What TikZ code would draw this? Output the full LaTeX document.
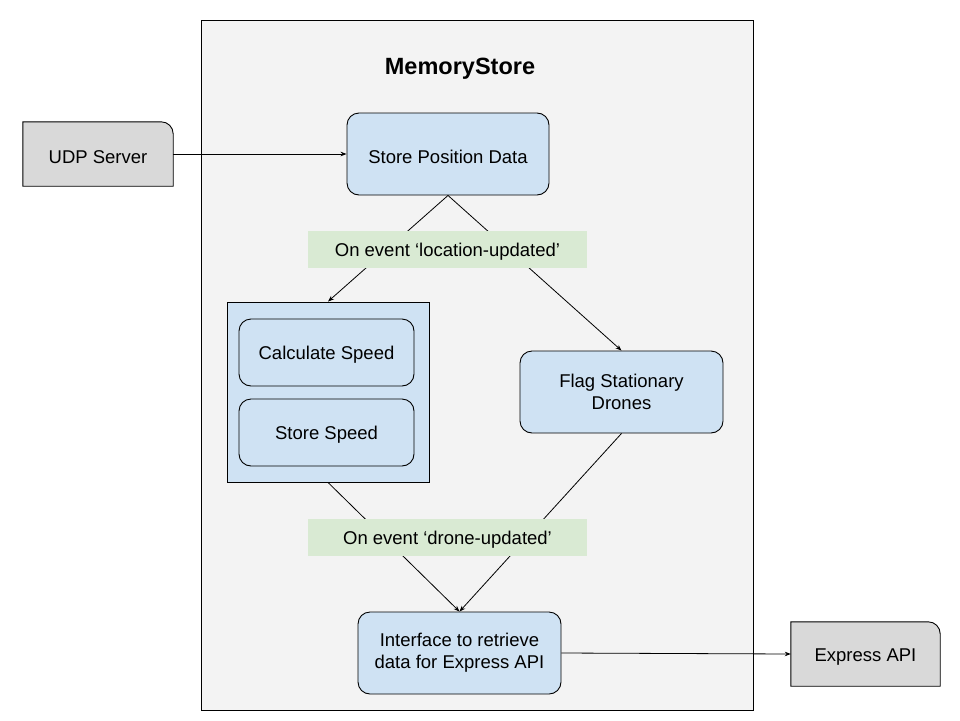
\documentclass[tikz,border=0pt]{standalone}
\usepackage{fontspec}
\setmainfont{Liberation Sans}
\usetikzlibrary{arrows.meta}
\definecolor{msgray}{HTML}{F3F3F3}
\definecolor{boxblue}{HTML}{CFE2F3}
\definecolor{evgreen}{HTML}{D9EAD3}
\definecolor{extgray}{HTML}{D9D9D9}
\tikzset{
  txt/.style={font=\fontsize{18.5}{22}\selectfont, align=center, inner sep=0pt,
    execute at begin node={\rule{0pt}{18.5pt}}},
  bluebox/.style={txt, draw=black, line width=0.9pt, fill=boxblue, rounded corners=12pt},
  groupbox/.style={draw=black, line width=0.9pt, fill=boxblue, inner sep=0pt},
  evlabel/.style={txt, fill=evgreen, draw=none},
  extbox/.style={draw=none, fill=none, inner sep=0pt},
  extshape/.style={draw=black, line width=0.9pt, fill=extgray},
  conn/.style={line width=0.8pt, draw=black},
  arr/.style={conn, -{Stealth[length=6pt, width=4.5pt]}},
}
\begin{document}
\begin{tikzpicture}[x=1pt, y=-1pt]
\useasboundingbox (0,0) rectangle (960,720);
\fill[white] (0,0) rectangle (960,720);
% MemoryStore container
\node[draw=black, line width=0.9pt, fill=msgray, minimum width=552pt, minimum height=690pt, inner sep=0pt] (ms) at (477,365) {};
\node[font=\fontsize{23.5}{26}\selectfont\bfseries, inner sep=0pt] (title) at (460,68.5) {MemoryStore};
% external boxes
\node[extbox, minimum width=150pt, minimum height=64pt] (udp) at (98,154) {};
\draw[extshape] (udp.south west) -- (udp.north west) -- ([xshift=-12pt]udp.north east) arc[start angle=90, end angle=0, radius=12pt] -- (udp.south east) -- cycle;
\node[txt] (udpt) at (udp) {UDP Server};
\node[extbox, minimum width=149pt, minimum height=64pt] (exp) at (865.5,654) {};
\draw[extshape] (exp.south west) -- (exp.north west) -- ([xshift=-12pt]exp.north east) arc[start angle=90, end angle=0, radius=12pt] -- (exp.south east) -- cycle;
\node[txt] (expt) at (exp) {Express API};
% inner boxes
\node[bluebox, minimum width=202pt, minimum height=82pt] (spd) at (448,154) {Store Position Data};
\node[groupbox, minimum width=202pt, minimum height=180pt] (grp) at (328,392) {};
\node[bluebox, minimum width=175pt, minimum height=67pt] (calc) at (326.5,352.5) {Calculate Speed};
\node[bluebox, minimum width=175pt, minimum height=67pt] (ss) at (326.5,432.5) {Store Speed};
\node[bluebox, minimum width=203pt, minimum height=82pt] (flag) at (621.5,392) {Flag Stationary\\Drones};
\node[bluebox, minimum width=203pt, minimum height=82pt] (iface) at (459.5,653) {Interface to retrieve\\data for Express API};
% connectors
\draw[arr] (udp.east) -- (spd.west);
\draw[arr] (iface.east) -- (exp.west);
\draw[arr] (spd.south) -- (grp.north);
\draw[arr] (spd.south) -- (flag.north);
\draw[arr] (grp.south) -- (iface.north);
\draw[arr] (flag.south) -- (iface.north);
% event labels (on top of the lines)
\node[evlabel, minimum width=279pt, minimum height=37pt] (ev1) at (447.5,249.5) {On event ‘location-updated’};
\node[evlabel, minimum width=279pt, minimum height=37pt] (ev2) at (447.5,537.5) {On event ‘drone-updated’};
\end{tikzpicture}
\end{document}
